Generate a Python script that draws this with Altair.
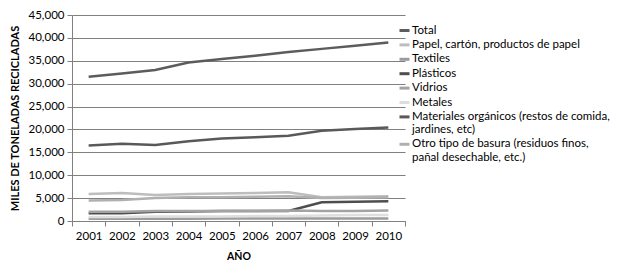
import altair as alt
import pandas as pd

years = [2001, 2002, 2003, 2004, 2005, 2006, 2007, 2008, 2009, 2010]
series_names = [
    "Total",
    "Papel, cartón, productos de papel",
    "Textiles",
    "Plásticos",
    "Vidrios",
    "Metales",
    "Materiales orgánicos (restos de comida, jardines, etc)",
    "Otro tipo de basura (residuos finos, pañal desechable, etc.)",
]
total = [31500, 32200, 33000, 34600, 35400, 36100, 36900, 37600, 38300, 39000]
papel = [5900, 6100, 5700, 5900, 6000, 6100, 6300, 5200, 5300, 5400]
textiles = [500, 500, 500, 500, 550, 550, 550, 550, 550, 550]
plasticos = [1700, 1700, 2000, 2100, 2200, 2200, 2200, 4100, 4200, 4300]
vidrios = [2000, 2000, 2200, 2200, 2200, 2200, 2300, 2200, 2200, 2300]
metales = [900, 900, 1000, 1000, 1000, 1100, 1100, 1200, 1300, 1300]
organicos = [16500, 16900, 16600, 17400, 18000, 18300, 18600, 19700, 20100, 20400]
otro = [4500, 4600, 5000, 5200, 5200, 5300, 5400, 5000, 5100, 5200]
colors = ["#5c5c5c", "#bdbdbd", "#9c9c9c", "#4e4e4e", "#a3a3a3", "#dedede", "#595959", "#b0b0b0"]

all_vals = [total, papel, textiles, plasticos, vidrios, metales, organicos, otro]
rows = []
for name, vals in zip(series_names, all_vals):
    for y, v in zip(years, vals):
        rows.append({"Serie": name, "Año": y, "Valor": v})
df = pd.DataFrame(rows)

x_values = [2000.5 + 0.5 * i for i in range(21)]
y_values = list(range(0, 45001, 5000))

label_expr = (
    "datum.label == 'Materiales orgánicos (restos de comida, jardines, etc)' ? "
    "['Materiales orgánicos (restos de comida,', 'jardines, etc)'] : "
    "datum.label == 'Otro tipo de basura (residuos finos, pañal desechable, etc.)' ? "
    "['Otro tipo de basura (residuos finos,', 'pañal desechable, etc.)'] : datum.label"
)

FONT = "Lato"

chart = alt.Chart(df).mark_line(strokeWidth=2.5).encode(
    x=alt.X(
        "Año:Q",
        scale=alt.Scale(domain=[2000.5, 2010.5], nice=False, zero=False),
        axis=alt.Axis(
            values=x_values,
            labelExpr="datum.value % 1 == 0 ? format(datum.value, 'd') : ''",
            tickOpacity={"condition": {"test": "datum.value % 1 == 0", "value": 0}, "value": 1},
            grid=False,
            title="AÑO",
            titleFontWeight="bold",
            titleFontSize=10.5,
            titlePadding=10,
            labelFontSize=11.5,
            labelPadding=4,
            tickSize=5,
            labelFlush=False,
            labelOverlap=False,
        ),
    ),
    y=alt.Y(
        "Valor:Q",
        scale=alt.Scale(domain=[0, 45000], nice=False),
        axis=alt.Axis(
            values=y_values,
            format=",d",
            title="MILES DE TONELADAS RECICLADAS",
            titleFontWeight="bold",
            titleFontSize=11,
            titlePadding=8,
            labelFontSize=11.5,
            labelPadding=3,
            tickSize=5,
            gridColor="#808080",
            gridOpacity=1,
        ),
    ),
    color=alt.Color(
        "Serie:N",
        scale=alt.Scale(domain=series_names, range=colors),
        sort=series_names,
        legend=alt.Legend(
            title=None,
            orient="none",
            legendX=326,
            legendY=9,
            symbolType="stroke",
            symbolSize=100,
            symbolStrokeWidth=3,
            labelFontSize=11.5,
            labelLimit=300,
            labelOffset=1,
            rowPadding=1.4,
            labelExpr=label_expr,
        ),
    ),
    order=alt.Order("Serie:N"),
).properties(
    width=333,
    height=206,
    padding={"left": 64, "top": 7, "right": 205, "bottom": 45},
    autosize=alt.AutoSizeParams(type="none"),
).configure(
    font=FONT,
).configure_axis(
    labelFont=FONT,
    titleFont=FONT,
    labelColor="#000000",
    titleColor="#000000",
    domainColor="#808080",
    tickColor="#808080",
).configure_legend(
    labelFont=FONT,
    labelColor="#000000",
).configure_view(
    stroke=None,
)

chart.save("out.html", embed_options={"renderer": "svg", "actions": False})
